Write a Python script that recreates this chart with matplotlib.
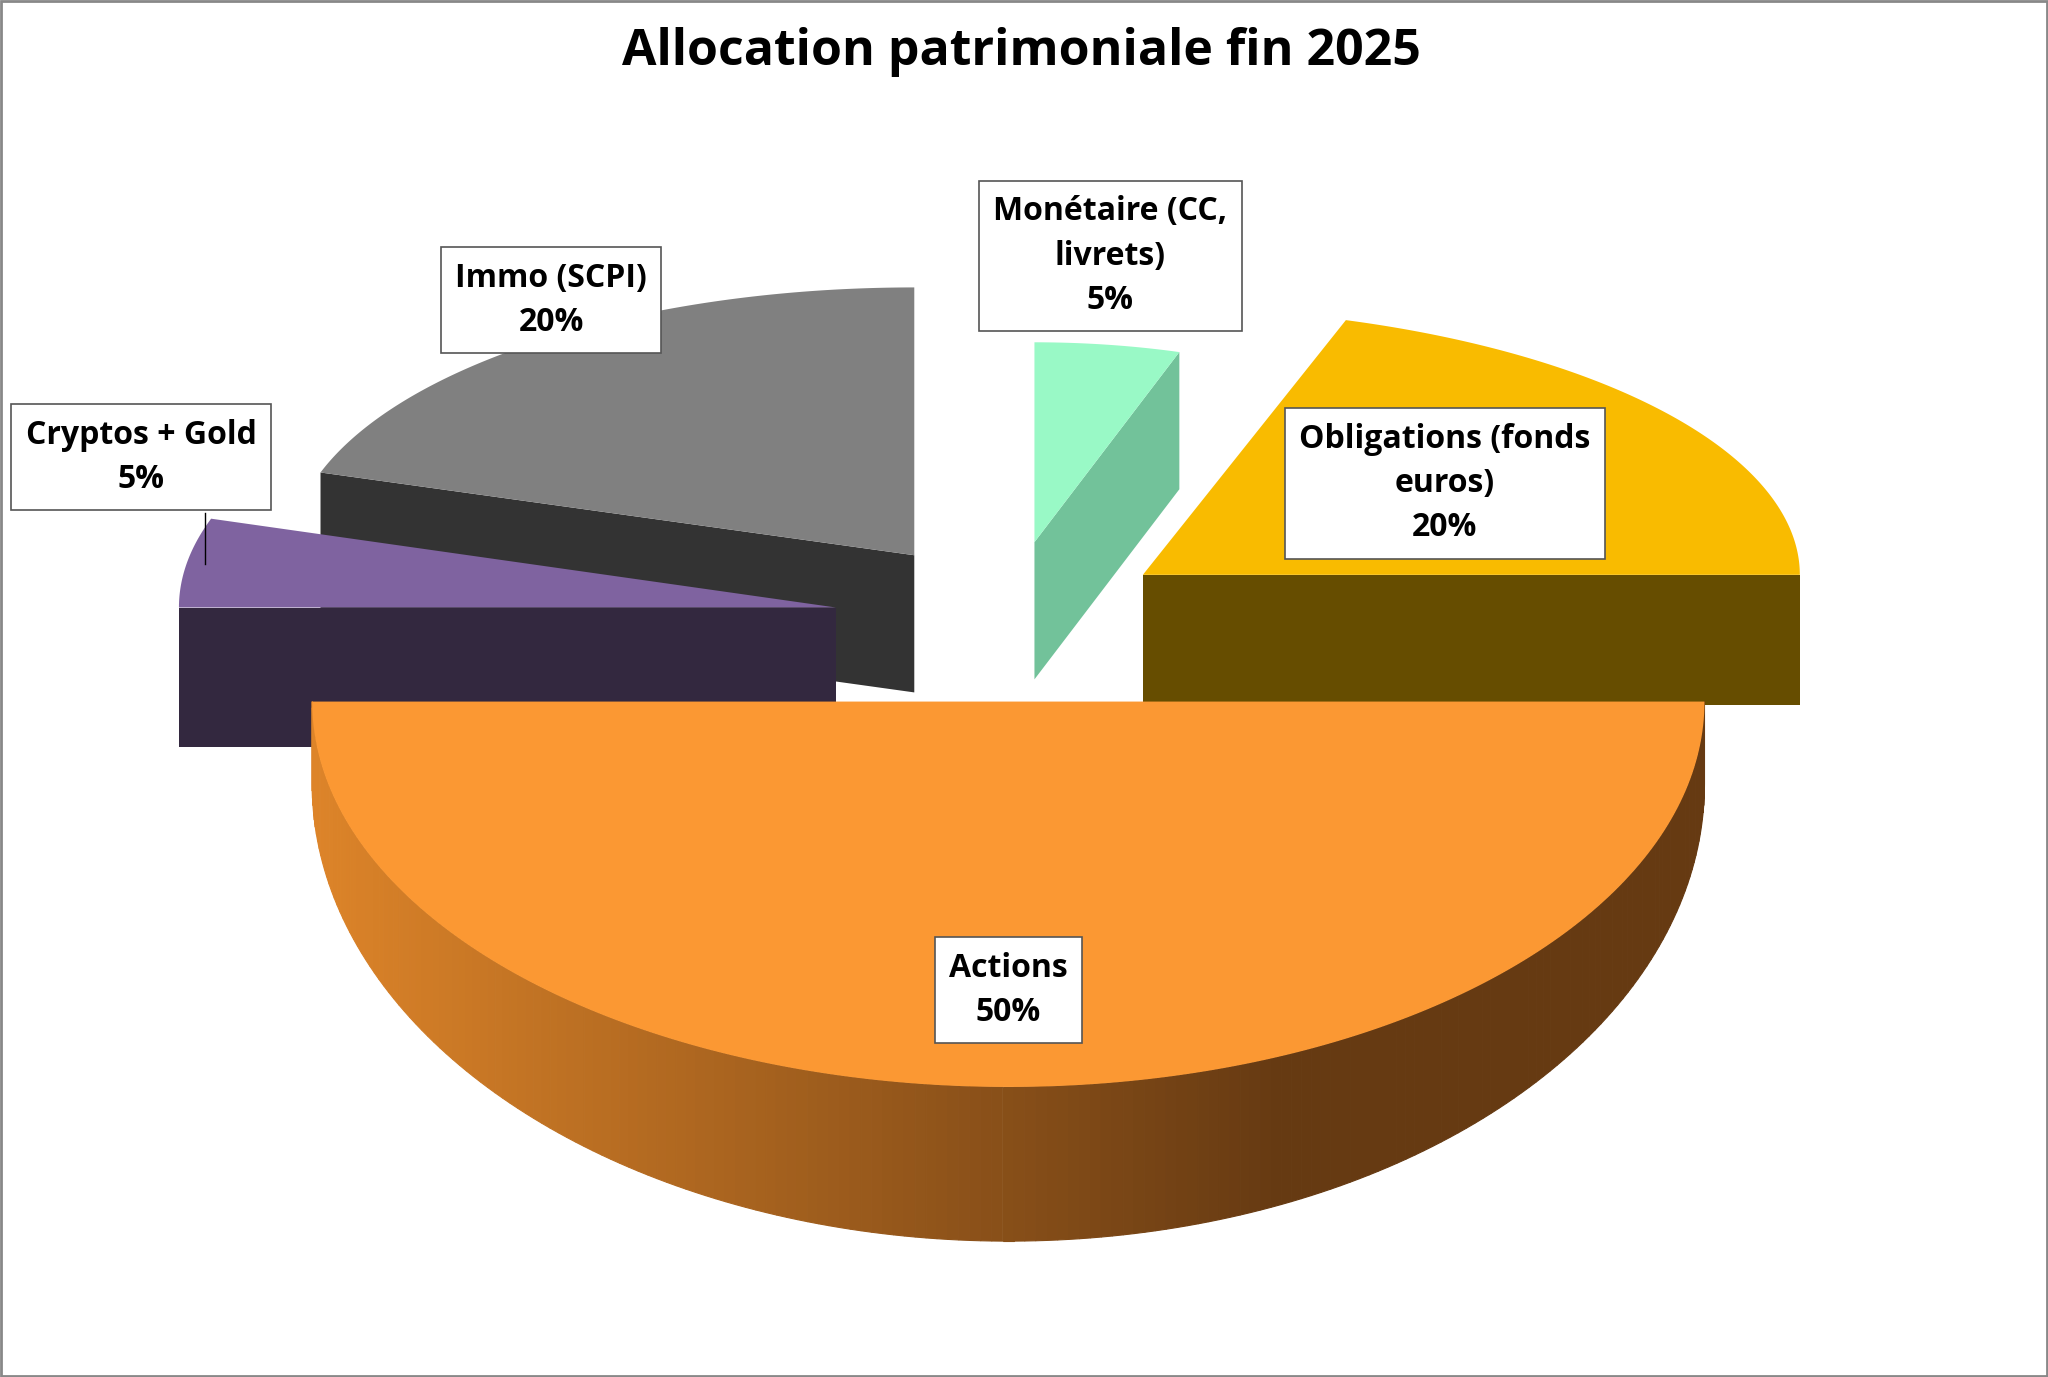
import numpy as np
import matplotlib
matplotlib.use("Agg")
import matplotlib.pyplot as plt
from matplotlib.colors import to_rgb

labels = ["Obligations (fonds\neuros)", "Monétaire (CC,\nlivrets)", "Immo (SCPI)", "Cryptos + Gold", "Actions"]
values = [20, 5, 20, 5, 50]
top_colors = ["#F9BB00", "#99F9C6", "#808080", "#7F63A0", "#FB9833"]
side_colors = ["#664D00", "#72C29A", "#333333", "#33283F", "#663A12"]

# geometry per slice (display coords): tip x, tip y, rx, ry, depth
geom = [
    (875, 440, 503, 205, 100),
    (792, 415, 359, 153, 105),
    (700, 425, 478, 205, 105),
    (640, 465, 503, 220, 107),
    (772, 537, 533, 295, 63),
]
label_pos = [(1106, 370), (850, 196), (422, 230), (108, 350), (772, 758)]

W, H = 1568, 1054
fig = plt.figure(figsize=(20.48, 13.77), dpi=100)
ax = fig.add_axes([0, 0, 1, 1])
ax.set_xlim(0, W); ax.set_ylim(H, 0); ax.axis("off")

total = sum(values)
starts = np.cumsum([0] + values[:-1]) / total * 360
order = sorted(range(len(values)), key=lambda i: geom[i][1])

def pt(g, t):
    tx, ty, rx, ry, d = g
    return tx + rx * np.cos(np.radians(t)), ty - ry * np.sin(np.radians(t))

for i in order:
    g = geom[i]
    tx, ty, rx, ry, d = g
    a0 = starts[i]; a1 = a0 + values[i] / total * 360
    ts = np.linspace(a0, a1, 200)
    extra = 55 if i == 4 else 0
    for k in range(len(ts) - 1):
        t0, t1 = ts[k], ts[k + 1]
        if np.sin(np.radians((t0 + t1) / 2)) > 0:
            continue
        x0, y0 = pt(g, t0); x1, y1 = pt(g, t1)
        d0 = d + extra * max(0, -np.sin(np.radians(t0)))
        d1 = d + extra * max(0, -np.sin(np.radians(t1)))
        if i == 4:
            f = min(1, max(0, ((x0 + x1) / 2 - 240) / 740))
            c = (1 - f) * np.array(to_rgb("#DD8429")) + f * np.array(to_rgb(side_colors[4]))
        else:
            c = side_colors[i]
        ax.fill([x0, x1, x1, x0], [y0, y1, y1 + d1, y0 + d0], color=c, lw=0.8, ec=c)
    for a, vis in [(a0, np.sin(np.radians(a0 - 90)) < -1e-6), (a1, np.sin(np.radians(a1 + 90)) < -1e-6)]:
        if vis:
            ox, oy = pt(g, a)
            ax.fill([tx, ox, ox, tx], [ty, oy, oy + d, ty + d], color=side_colors[i], lw=0)
    xs = [tx] + [pt(g, t)[0] for t in ts]
    ys = [ty] + [pt(g, t)[1] for t in ts]
    ax.fill(xs, ys, color=top_colors[i], lw=0)

ax.plot([157, 157], [393, 432], color="black", lw=1)

for i in range(len(values)):
    x, y = label_pos[i]
    ax.text(x, y, f"{labels[i]}\n{values[i]}%", ha="center", va="center",
            fontsize=23, fontweight="bold", family=["Open Sans", "DejaVu Sans"],
            linespacing=1.45,
            bbox=dict(boxstyle="square,pad=0.45", fc="white", ec="#555555", lw=1.2))

ax.text(W / 2 - 2, 40, "Allocation patrimoniale fin 2025", ha="center", va="center",
        fontsize=36, fontweight="bold", family=["Open Sans", "DejaVu Sans"])

ax.add_patch(plt.Rectangle((1, 1), W - 2, H - 2, fill=False, ec="#888888", lw=2))
fig.savefig("out.png", dpi=100)
